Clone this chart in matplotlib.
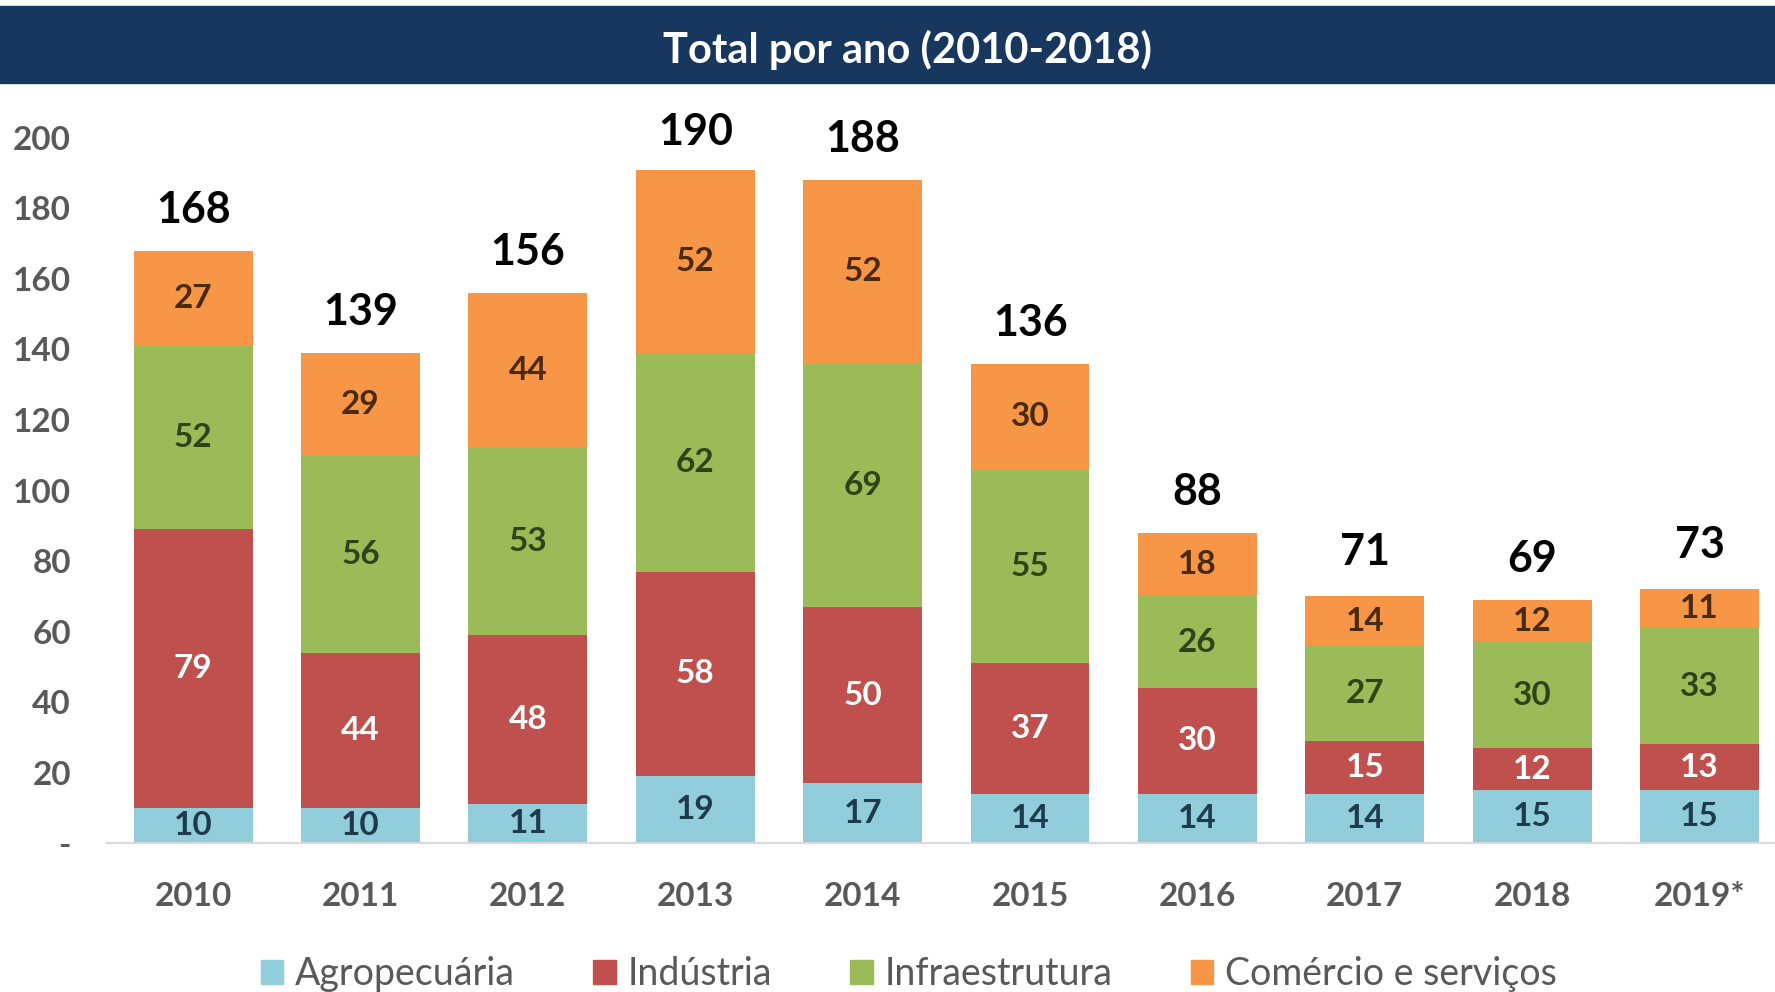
import matplotlib
matplotlib.use("Agg")
import matplotlib.pyplot as plt
from matplotlib.patches import Patch, Rectangle

anos = ["2010", "2011", "2012", "2013", "2014", "2015", "2016", "2017", "2018", "2019*"]
agro = [10, 10, 11, 19, 17, 14, 14, 14, 15, 15]
industria = [79, 44, 48, 58, 50, 37, 30, 15, 12, 13]
infra = [52, 56, 53, 62, 69, 55, 26, 27, 30, 33]
comercio = [27, 29, 44, 52, 52, 30, 18, 14, 12, 11]
totais = [168, 139, 156, 190, 188, 136, 88, 71, 69, 73]

series = [
    ("Agropecuária", agro, "#92CDDC", "#1E3B4C"),
    ("Indústria", industria, "#C0504D", "white"),
    ("Infraestrutura", infra, "#9BBB59", "#2E4418"),
    ("Comércio e serviços", comercio, "#F79646", "#4A2A0C"),
]

plt.rcParams['font.family'] = ['Lato', 'DejaVu Sans']

fig = plt.figure(figsize=(17.75, 9.92), dpi=100)
ax = fig.add_axes([0.0603, 0.150, 0.9397, 0.711])

x = list(range(len(anos)))
base = [0] * len(anos)
for nome, vals, cor, cor_txt in series:
    ax.bar(x, vals, bottom=base, width=0.71, color=cor, label=nome, zorder=2)
    for i, v in enumerate(vals):
        ax.text(i, base[i] + v / 2, str(v), ha="center", va="center",
                fontsize=24, fontweight="bold", color=cor_txt, zorder=3)
    base = [b + v for b, v in zip(base, vals)]

for i, t in enumerate(totais):
    ax.annotate(str(t), (i, t), xytext=(0, 20), textcoords="offset points",
                ha="center", va="baseline", fontsize=31, fontweight="bold",
                color="black", annotation_clip=False)

ax.set_xlim(-0.514, 9.45)
ax.set_ylim(0, 200)
ax.set_yticks(range(0, 201, 20))
ax.set_yticklabels(["-"] + [str(v) for v in range(20, 201, 20)])
ax.set_xticks(x)
ax.set_xticklabels(anos)
ax.tick_params(axis="both", length=0, labelsize=24, labelcolor="#595959")
ax.tick_params(axis="y", pad=26)
ax.tick_params(axis="x", pad=28)
for lab in ax.get_xticklabels() + ax.get_yticklabels():
    lab.set_fontweight("bold")
for s in ["top", "right", "left"]:
    ax.spines[s].set_visible(False)
ax.spines["bottom"].set_color("#D9D9D9")
ax.spines["bottom"].set_linewidth(1.5)

# faixa do título
fig.patches.append(Rectangle((0, 1 - 83 / 992), 1, 77 / 992, transform=fig.transFigure,
                             color="#17375E", zorder=0))
fig.text(0.511, 1 - 50 / 992, "Total por ano (2010-2018)", ha="center", va="center",
         fontsize=30, fontweight="bold", color="white")

handles = [Patch(color=c) for _, _, c, _ in series]
fig.legend(handles, [n for n, _, _, _ in series], loc="center", bbox_to_anchor=(0.512, 0.018),
           ncol=4, frameon=False, fontsize=27, labelcolor="#595959",
           handlelength=0.6, handleheight=0.6, handletextpad=0.3, columnspacing=2.1)

fig.savefig("out.png", dpi=100)
